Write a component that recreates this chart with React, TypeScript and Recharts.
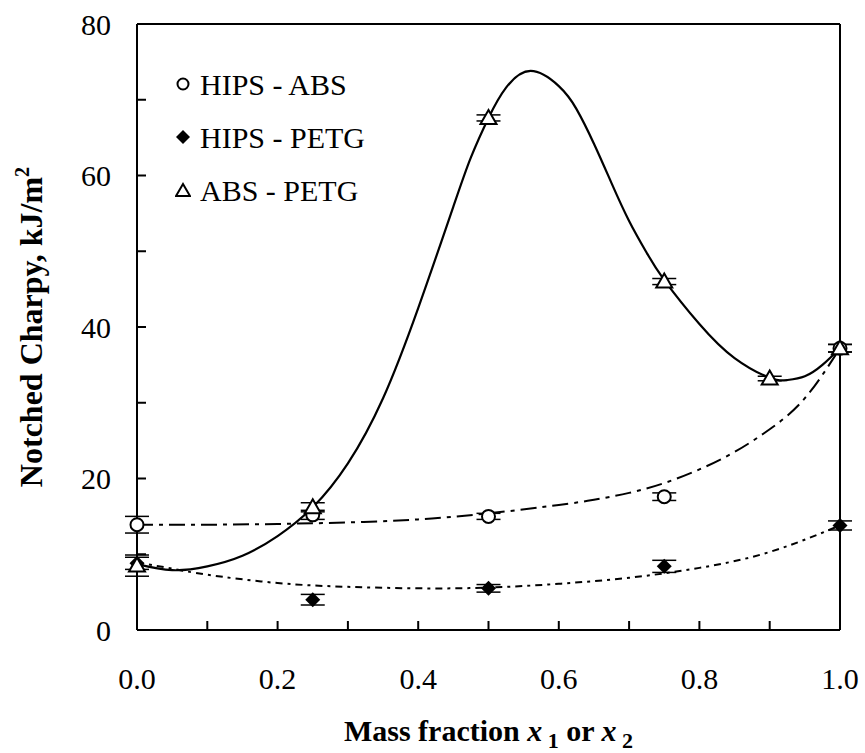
import { ComposedChart, Line, Scatter, XAxis, YAxis, ErrorBar, ReferenceLine, Legend, Label } from 'recharts'

// measured blends: mass fraction vs notched Charpy impact strength (kJ/m²)
const blendX = [0, 0.25, 0.5, 0.75, 1.0]
const hipsAbs = [13.9, 15.2, 15.0, 17.6, 37.2]
const hipsAbsErr = [1.1, 0.6, 0.4, 0.5, 0.5]
const hipsPetg = [8.8, 4.0, 5.5, 8.4, 13.8]
const hipsPetgErr = [0.8, 0.7, 0.5, 0.8, 0.6]
const absPetgX = [0, 0.25, 0.5, 0.75, 0.9, 1.0]
const absPetg = [8.5, 16.2, 67.6, 46.0, 33.2, 37.2]
const absPetgErr = [1.4, 0.6, 0.4, 0.4, 0.3, 0.5]

// fitted trend lines
const absPetgFitX = [0, 0.05, 0.1, 0.15, 0.2, 0.25, 0.3, 0.35, 0.4, 0.45, 0.475, 0.5, 0.525, 0.56, 0.6, 0.625, 0.65, 0.675, 0.7, 0.725, 0.75, 0.8, 0.85, 0.9, 0.925, 0.95, 0.975, 1.0]
const absPetgFitY = [8.7, 7.9, 8.4, 9.8, 12.4, 16.2, 22.0, 30.6, 42.5, 55.9, 62.4, 67.6, 71.6, 73.8, 71.8, 68.8, 64.2, 59.0, 54.0, 49.8, 46.2, 40.4, 35.9, 33.3, 33.0, 33.5, 35.0, 37.2]
const hipsAbsFitX = [0, 0.1, 0.2, 0.3, 0.4, 0.5, 0.6, 0.65, 0.7, 0.75, 0.8, 0.85, 0.9, 0.95, 1.0]
const hipsAbsFitY = [13.9, 13.9, 14.0, 14.2, 14.6, 15.4, 16.5, 17.2, 18.1, 19.4, 21.2, 23.5, 26.5, 30.6, 37.2]
const hipsPetgFitX = [0, 0.05, 0.1, 0.2, 0.3, 0.4, 0.5, 0.6, 0.7, 0.8, 0.9, 1.0]
const hipsPetgFitY = [8.9, 8.1, 7.3, 6.2, 5.7, 5.5, 5.6, 6.1, 6.9, 8.2, 10.3, 13.8]

const xTicks = [0, 0.1, 0.2, 0.3, 0.4, 0.5, 0.6, 0.7, 0.8, 0.9, 1.0]
const yTicks = [0, 10, 20, 30, 40, 50, 60, 70, 80]

const legendNames = ['HIPS - ABS', 'HIPS - PETG', 'ABS - PETG']

const pts = (xs: number[], ys: number[], es?: number[]) =>
  xs.map((x, i) => ({ x, y: ys[i], e: es ? es[i] : 0 }))

const FONT = '"Liberation Serif", "Times New Roman", serif'

const OpenCircle = (p: any) => (
  <circle cx={p.cx} cy={p.cy} r={6.5} fill="#fff" stroke="#000" strokeWidth={2} />
)
const FilledDiamond = (p: any) => (
  <polygon
    points={`${p.cx},${p.cy - 7.5} ${p.cx + 7.5},${p.cy} ${p.cx},${p.cy + 7.5} ${p.cx - 7.5},${p.cy}`}
    fill="#000"
  />
)
const OpenTriangle = (p: any) => (
  <polygon
    points={`${p.cx},${p.cy - 8} ${p.cx + 8},${p.cy + 6} ${p.cx - 8},${p.cy + 6}`}
    fill="#fff"
    stroke="#000"
    strokeWidth={2}
  />
)

function LegendIcon({ i }: { i: number }) {
  return (
    <svg width={16} height={16} style={{ verticalAlign: 'middle', marginRight: 9 }}>
      {i === 0 && <circle cx={8} cy={8} r={5.5} fill="#fff" stroke="#000" strokeWidth={2} />}
      {i === 1 && <polygon points="8,1 15,8 8,15 1,8" fill="#000" />}
      {i === 2 && <polygon points="8,2 15,14 1,14" fill="#fff" stroke="#000" strokeWidth={2} />}
    </svg>
  )
}

function LegendBox() {
  return (
    <div style={{ fontFamily: FONT, fontSize: 30, color: '#000' }}>
      {legendNames.map((name, i) => (
        <div key={name} style={{ height: 53, lineHeight: '53px', whiteSpace: 'nowrap' }}>
          <LegendIcon i={i} />
          <span style={{ verticalAlign: 'middle' }}>{name}</span>
        </div>
      ))}
    </div>
  )
}

function YTitle(props: any) {
  const vb = props.viewBox
  const cy = vb.y + vb.height / 2
  return (
    <text
      transform={`translate(42, ${cy}) rotate(-90)`}
      textAnchor="middle"
      fontFamily={FONT}
      fontSize={32}
      fontWeight="bold"
      fill="#000"
    >
      Notched Charpy, kJ/m
      <tspan dy={-13} fontSize={20}>2</tspan>
    </text>
  )
}

function XTitle(props: any) {
  const vb = props.viewBox
  const cx = vb.x + vb.width / 2
  return (
    <text x={cx} y={741} textAnchor="middle" fontFamily={FONT} fontSize={30} fontWeight="bold" fill="#000">
      Mass fraction <tspan fontStyle="italic">x</tspan>
      <tspan dy={7} fontSize={22}> 1</tspan>
      <tspan dy={-7}> or </tspan>
      <tspan fontStyle="italic">x</tspan>
      <tspan dy={7} fontSize={22}> 2</tspan>
    </text>
  )
}

export default function App() {
  const tickStyle = { fill: '#000', fontSize: 30, fontFamily: FONT }
  const axisStroke = { stroke: '#000', strokeWidth: 2 }
  return (
    <div style={{ position: 'absolute', left: 0, top: 0, background: '#fff' }}>
      <ComposedChart width={865} height={753} margin={{ top: 24, right: 25, bottom: 43, left: 77 }}>
        <XAxis
          type="number"
          dataKey="x"
          domain={[0, 1]}
          ticks={xTicks}
          interval={0}
          tickFormatter={(v: number) => (Math.round(v * 10) % 2 === 0 ? v.toFixed(1) : '')}
          tick={tickStyle}
          tickSize={-9}
          tickMargin={47}
          tickLine={axisStroke}
          axisLine={axisStroke}
          height={80}
        >
          <Label content={XTitle} />
        </XAxis>
        <YAxis
          type="number"
          domain={[0, 80]}
          ticks={yTicks}
          interval={0}
          tickFormatter={(v: number) => (v % 20 === 0 ? String(v) : '')}
          tick={tickStyle}
          tickSize={-9}
          tickMargin={35}
          tickLine={axisStroke}
          axisLine={axisStroke}
          width={60}
        >
          <Label content={YTitle} />
        </YAxis>
        <ReferenceLine y={80} stroke="#000" strokeWidth={2} />
        <ReferenceLine x={1} stroke="#000" strokeWidth={2} />

        <Line
          data={pts(hipsAbsFitX, hipsAbsFitY)}
          dataKey="y"
          type="natural"
          dot={false}
          stroke="#000"
          strokeWidth={2}
          strokeDasharray="16 6 4 6"
          isAnimationActive={false}
          legendType="none"
        />
        <Line
          data={pts(hipsPetgFitX, hipsPetgFitY)}
          dataKey="y"
          type="natural"
          dot={false}
          stroke="#000"
          strokeWidth={2}
          strokeDasharray="7 5 3 5"
          isAnimationActive={false}
          legendType="none"
        />
        <Line
          data={pts(absPetgFitX, absPetgFitY)}
          dataKey="y"
          type="natural"
          dot={false}
          stroke="#000"
          strokeWidth={2.2}
          isAnimationActive={false}
          legendType="none"
        />

        <Scatter data={pts(blendX, hipsAbs, hipsAbsErr)} dataKey="y" shape={OpenCircle} isAnimationActive={false}>
          <ErrorBar dataKey="e" direction="y" width={12} stroke="#000" strokeWidth={1.5} />
        </Scatter>
        <Scatter data={pts(blendX, hipsPetg, hipsPetgErr)} dataKey="y" shape={FilledDiamond} isAnimationActive={false}>
          <ErrorBar dataKey="e" direction="y" width={12} stroke="#000" strokeWidth={1.5} />
        </Scatter>
        <Scatter data={pts(absPetgX, absPetg, absPetgErr)} dataKey="y" shape={OpenTriangle} isAnimationActive={false}>
          <ErrorBar dataKey="e" direction="y" width={12} stroke="#000" strokeWidth={1.5} />
        </Scatter>

        <Legend
          content={LegendBox}
          layout="vertical"
          align="center"
          verticalAlign="middle"
          wrapperStyle={{ left: 175, top: 54, width: 260 }}
        />
      </ComposedChart>
    </div>
  )
}
